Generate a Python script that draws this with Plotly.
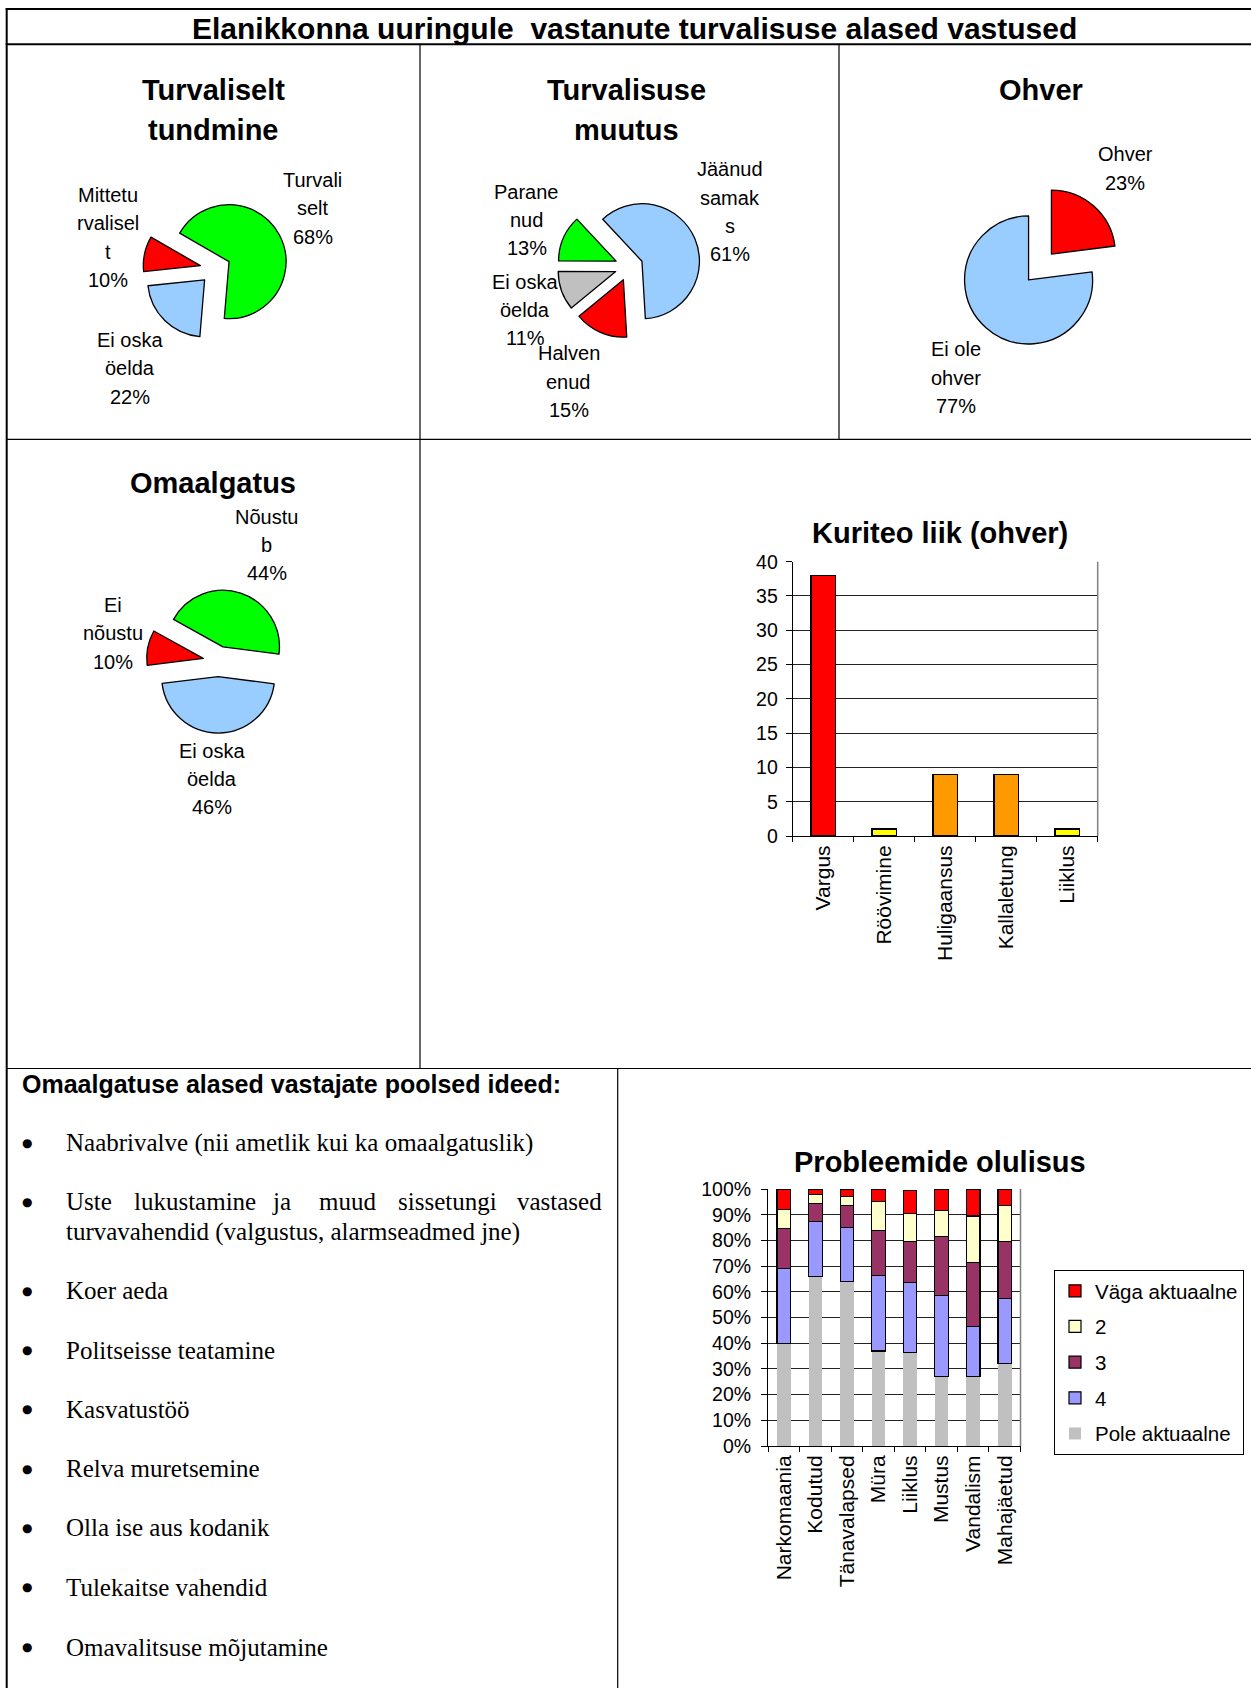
import plotly.graph_objects as go

W, H = 1251, 1688
SANS = "Liberation Sans, Arial, sans-serif"
SERIF = "Liberation Serif, Times New Roman, serif"

# ---------------- data ----------------
main_title = "Elanikkonna uuringule  vastanute turvalisuse alased vastused"

pie1_title = ["Turvaliselt", "tundmine"]
pie1_labels = ["Turvaliselt", "Ei oska öelda", "Mitteturvaliselt"]
pie1_label_lines = [["Turvali", "selt"], ["Ei oska", "öelda"], ["Mittetu", "rvalisel", "t"]]
pie1_values = [68, 22, 10]
pie1_colors = ["#00FF00", "#99CCFF", "#FF0000"]

pie2_title = ["Turvalisuse", "muutus"]
pie2_labels = ["Jäänud samaks", "Halvenenud", "Ei oska öelda", "Paranenud"]
pie2_label_lines = [["Jäänud", "samak", "s"], ["Halven", "enud"], ["Ei oska", "öelda"], ["Parane", "nud"]]
pie2_values = [61, 15, 11, 13]
pie2_colors = ["#99CCFF", "#FF0000", "#C0C0C0", "#00FF00"]

pie3_title = ["Ohver"]
pie3_labels = ["Ohver", "Ei ole ohver"]
pie3_label_lines = [["Ohver"], ["Ei ole", "ohver"]]
pie3_values = [23, 77]
pie3_colors = ["#FF0000", "#99CCFF"]

pie4_title = ["Omaalgatus"]
pie4_labels = ["Nõustub", "Ei oska öelda", "Ei nõustu"]
pie4_label_lines = [["Nõustu", "b"], ["Ei oska", "öelda"], ["Ei", "nõustu"]]
pie4_values = [44, 46, 10]
pie4_colors = ["#00FF00", "#99CCFF", "#FF0000"]

crime_title = "Kuriteo liik (ohver)"
crime_categories = ["Vargus", "Röövimine", "Huligaansus", "Kallaletung", "Liiklus"]
crime_values = [38, 1, 9, 9, 1]
crime_colors = ["#FF0000", "#FFFF00", "#FF9900", "#FF9900", "#FFFF00"]
crime_ticks = [0, 5, 10, 15, 20, 25, 30, 35, 40]

prob_title = "Probleemide olulisus"
prob_categories = ["Narkomaania", "Kodutud", "Tänavalapsed", "Müra", "Liiklus",
                   "Mustus", "Vandalism", "Mahajäetud"]
prob_pole = [40, 66, 64, 37, 36.5, 27, 27, 32]
prob_4 = [29, 21.5, 21, 29.5, 27, 31.5, 19.5, 25.5]
prob_3 = [15.5, 7, 8.5, 17.5, 16, 23, 25, 22]
prob_2 = [7.5, 3.5, 3.5, 11, 11, 10, 18, 14]
prob_vaga = [8, 2, 3, 5, 9, 8.5, 10.5, 6.5]
prob_names = ["Pole aktuaalne", "4", "3", "2", "Väga aktuaalne"]
prob_colors = ["#C0C0C0", "#9999FF", "#993366", "#FFFFCC", "#FF0000"]
prob_ticks = [0, 10, 20, 30, 40, 50, 60, 70, 80, 90, 100]

ideas_title = "Omaalgatuse alased vastajate poolsed ideed:"
ideas_lines = [
    ["Naabrivalve (nii ametlik kui ka omaalgatuslik)"],
    ["Uste lukustamine ja muud sissetungi vastased",
     "turvavahendid (valgustus, alarmseadmed jne)"],
    ["Koer aeda"],
    ["Politseisse teatamine"],
    ["Kasvatustöö"],
    ["Relva muretsemine"],
    ["Olla ise aus kodanik"],
    ["Tulekaitse vahendid"],
    ["Omavalitsuse mõjutamine"],
]

# ---------------- helpers ----------------
fig = go.Figure()
annotations = []
shapes = []


def px(x):
    return x / W


def py(y):
    return 1 - y / H


def text(t, x, y, size, bold=False, family=SANS, xanchor="center", yanchor="middle"):
    annotations.append(dict(
        text=f"<b>{t}</b>" if bold else t, x=px(x), y=py(y), xref="paper", yref="paper",
        showarrow=False, xanchor=xanchor, yanchor=yanchor,
        font=dict(family=family, size=size, color="black")))


def hline(y, x0, x1, w):
    shapes.append(dict(type="line", xref="paper", yref="paper", x0=px(x0), x1=px(x1),
                       y0=py(y), y1=py(y), line=dict(color="black", width=w)))


def vline(x, y0, y1, w):
    shapes.append(dict(type="line", xref="paper", yref="paper", x0=px(x), x1=px(x),
                       y0=py(y0), y1=py(y1), line=dict(color="black", width=w)))


# ---------------- frame ----------------
hline(9, 5.7, W, 2)
hline(44.3, 5.7, W, 2)
vline(6.7, 8, H, 2)
hline(439.3, 6.7, W, 1.2)
vline(420, 44.3, 1068.5, 1.2)
vline(839, 44.3, 439.3, 1.2)
hline(1068.5, 6.7, W, 1.2)
vline(617.7, 1068.5, H, 1.2)

text(main_title, 634, 28, 30, bold=True)

# ---------------- pies ----------------
pies = [
    dict(title=pie1_title, labels=pie1_labels, lines=pie1_label_lines, values=pie1_values,
         colors=pie1_colors, rot=-60, c=(215.4, 268.8), r=57, pull=0.27,
         tpos=(213.5, 90), lpos=[(312.5, 180), (130, 340), (107.7, 195)]),
    dict(title=pie2_title, labels=pie2_labels, lines=pie2_label_lines, values=pie2_values,
         colors=pie2_colors, rot=-43, c=(629, 266.8), r=57.5, pull=0.245,
         tpos=(626.5, 90), lpos=[(730, 169.3), (568.8, 353.3), (525, 281.7), (526.6, 191.7)]),
    dict(title=pie3_title, labels=pie3_labels, lines=pie3_label_lines, values=pie3_values,
         colors=pie3_colors, rot=0, c=(1040, 267), r=64, pull=0.27,
         tpos=(1041, 90), lpos=[(1125, 154.3), (955.8, 349.3)]),
    dict(title=pie4_title, labels=pie4_labels, lines=pie4_label_lines, values=pie4_values,
         colors=pie4_colors, rot=-61, c=(218.2, 661.3), r=56.5, pull=0.27,
         tpos=(213, 483), lpos=[(266.7, 516.7), (212.3, 750.7), (112.5, 605)]),
]

for p in pies:
    cx, cy = p["c"]
    s = p["r"] * (1 + p["pull"])
    fig.add_trace(go.Pie(
        labels=p["labels"], values=p["values"], sort=False, direction="clockwise",
        rotation=p["rot"], pull=[p["pull"]] * len(p["values"]),
        marker=dict(colors=p["colors"], line=dict(color="black", width=1.3)),
        textinfo="none", hoverinfo="label+percent", showlegend=False,
        domain=dict(x=[(cx - s) / W, (cx + s) / W], y=[1 - (cy + s) / H, 1 - (cy - s) / H]),
    ))
    tx, ty = p["tpos"]
    for i, t in enumerate(p["title"]):
        text(t, tx, ty + 40 * i, 29, bold=True)
    for lines, v, (lx, ly) in zip(p["lines"], p["values"], p["lpos"]):
        for i, t in enumerate(lines + [f"{v}%"]):
            text(t, lx, ly + 28.3 * i, 20)

# ---------------- crime bar chart ----------------
fig.add_trace(go.Bar(
    x=crime_categories, y=crime_values, width=0.4,
    marker=dict(color=crime_colors, line=dict(color="black", width=1.4)),
    showlegend=False, xaxis="x", yaxis="y",
))
text(crime_title, 940, 533.3, 29, bold=True)

# ---------------- problems stacked chart ----------------
series = [prob_pole, prob_4, prob_3, prob_2, prob_vaga]
for k, (name, vals, col) in enumerate(zip(prob_names, series, prob_colors)):
    fig.add_trace(go.Bar(
        x=prob_categories, y=vals, name=name, width=0.43, legendgroup=name,
        legendrank=len(prob_names) - k,
        marker=dict(color=col, line=dict(color="black", width=0 if name == "Pole aktuaalne" else 1.2)),
        xaxis="x2", yaxis="y2",
    ))
text(prob_title, 940, 1161.6, 29, bold=True)

# plot-area right borders (grey)
for xr, yr in [("x", "y"), ("x2", "y2")]:
    shapes.append(dict(type="line", xref=f"{xr} domain", yref=f"{yr} domain",
                       x0=1, x1=1, y0=0, y1=1, line=dict(color="#808080", width=1.5)))

# ---------------- ideas text ----------------
text(ideas_title, 19.5, 1084, 25, bold=True, xanchor="left")
idea_y = [1143, 1201.5, 1290.8, 1350, 1409, 1468.5, 1527.7, 1587, 1647]
just_x = [64.4, 132.4, 269.9, 316.6, 396.4, 603.6]
for lines, y in zip(ideas_lines, idea_y):
    text("●", 26.5, y, 12, family="DejaVu Sans")
    for j, line in enumerate(lines):
        yy = y + 30.1 * j
        if j == 0 and len(lines) > 1:
            words = line.split(" ")
            for k, w in enumerate(words):
                last = k == len(words) - 1
                text(w, just_x[k], yy, 25, family=SERIF, xanchor="right" if last else "left")
        else:
            text(line, 64.4, yy, 25, family=SERIF, xanchor="left")

# ---------------- layout ----------------
ytick_font = dict(family=SANS, size=19.5, color="black")
xtick_font = dict(family=SANS, size=21, color="black")
fig.update_layout(
    width=W, height=H, autosize=False,
    margin=dict(l=0, r=0, t=0, b=0, pad=0, autoexpand=False),
    paper_bgcolor="white", plot_bgcolor="white",
    barmode="stack",
    font=dict(family=SANS, color="black"),
    xaxis=dict(domain=[792.7 / W, 1097.7 / W], anchor="y", type="category",
               ticks="outside", tickson="boundaries", ticklen=5, tickcolor="black",
               showline=True, linecolor="black", linewidth=1, tickangle=-90,
               tickfont=xtick_font, showgrid=False, fixedrange=True, automargin=False),
    yaxis=dict(domain=[1 - 836 / H, 1 - 561.7 / H], anchor="x", range=[0, 40],
               tickvals=crime_ticks, ticks="outside", ticklen=6, tickcolor="black",
               showline=True, linecolor="black", linewidth=1, ticklabelstandoff=4,
               showgrid=True, gridcolor="#222", gridwidth=1, zeroline=False,
               tickfont=ytick_font, fixedrange=True, automargin=False),
    xaxis2=dict(domain=[768 / W, 1020.5 / W], anchor="y2", type="category",
                ticks="outside", tickson="boundaries", ticklen=5, tickcolor="black",
                showline=True, linecolor="black", linewidth=1, tickangle=-90,
                tickfont=xtick_font, showgrid=False, fixedrange=True, automargin=False),
    yaxis2=dict(domain=[1 - 1446 / H, 1 - 1189 / H], anchor="x2", range=[0, 100],
                tickmode="array", tickvals=prob_ticks, ticktext=[f"{t}%" for t in prob_ticks],
                ticks="outside", ticklen=6, ticklabelstandoff=6,
                tickcolor="black", showline=True, linecolor="black", linewidth=1,
                showgrid=True, gridcolor="#222", gridwidth=1, zeroline=False,
                tickfont=ytick_font, fixedrange=True, automargin=False),
    legend=dict(x=1054 / W, y=1 - 1270 / H, xanchor="left", yanchor="top",
                bordercolor="black", borderwidth=1, bgcolor="white",
                font=dict(family=SANS, size=20.5, color="black"),
                traceorder="grouped", tracegroupgap=6),
    annotations=annotations,
    shapes=shapes,
)

fig.write_html("out.html", config={"displayModeBar": False},
               post_script="document.body.style.margin='0px';document.body.style.overflow='hidden';")
